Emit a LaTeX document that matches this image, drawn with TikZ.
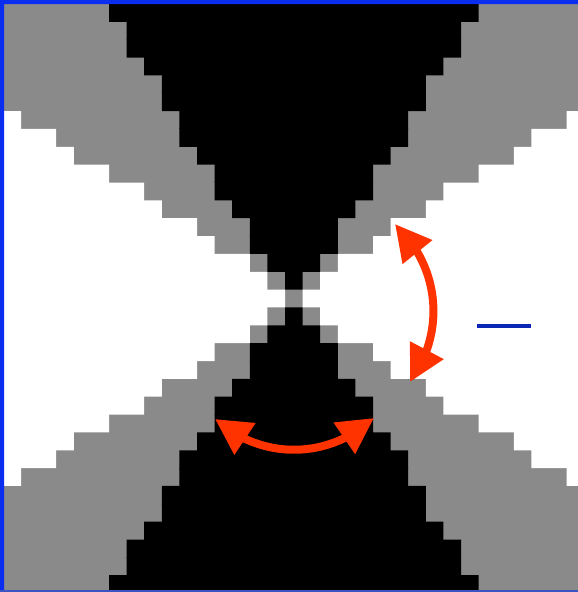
\documentclass[tikz,border=0pt]{standalone}
\usepackage{tikz}
\usetikzlibrary{arrows.meta,bending}
\definecolor{Frame}{HTML}{0A2EF0}
\definecolor{Mark}{HTML}{0A28B4}
\definecolor{Cone}{HTML}{8A8A8A}
\definecolor{Flip}{HTML}{FF3300}
\tikzset{
  flip/.style={{Triangle[length=36pt,width=36pt]}-{Triangle[length=36pt,width=36pt]},line width=8pt,draw=Flip},
  pix/.style={x=17.6pt,y=-17.85pt}
}

\begin{document}
\begin{tikzpicture}[x=1pt,y=1pt]
  \useasboundingbox (0,0) rectangle (578,-592);
  \fill[Cone] (0,0) rectangle (578,-592);
  % row / first black column / first gray column
  \begin{scope}[shift={(3.4,-4)},pix]
    \foreach \r/\b/\g in {0/6/0,1/7/0,2/7/0,3/8/0,4/9/0,5/9/0,6/10/1,7/10/3,8/11/4,
                          9/12/6,10/12/8,11/13/9,12/14/11,13/14/12,14/15/14,15/16/15} {
      \fill[black] (\b,\r-.06) rectangle ({33-\b},\r+1) (\b,32-\r) rectangle ({33-\b},33.06-\r);
      \fill[white] (-1,\r) rectangle (\g,\r+1.06) ({33-\g},\r) rectangle (34,\r+1.06);
      \fill[white] (-1,31.94-\r) rectangle (\g,33-\r) ({33-\g},31.94-\r) rectangle (34,33-\r);
    }
    \fill[white] (-1,16) rectangle (16,17) (17,16) rectangle (34,17);
  \end{scope}
  \fill[Frame] (0,0) rectangle (4,-592) (0,0) rectangle (578,-4);
  \fill[Mark!80] (0,-590) rectangle (578,-592);
  \coordinate (topTip) at (395,-224);
  \coordinate (lowTip) at (410,-382);
  \coordinate (leftTip) at (215,-419);
  \coordinate (rightTip) at (374,-418);
  \draw[flip] (topTip) to[bend left=41] (lowTip);
  \draw[flip] (leftTip) to[bend right=42] (rightTip);
  \draw[Mark,line width=4pt] (477,-325.7) -- (531,-325.7);
\end{tikzpicture}
\end{document}
